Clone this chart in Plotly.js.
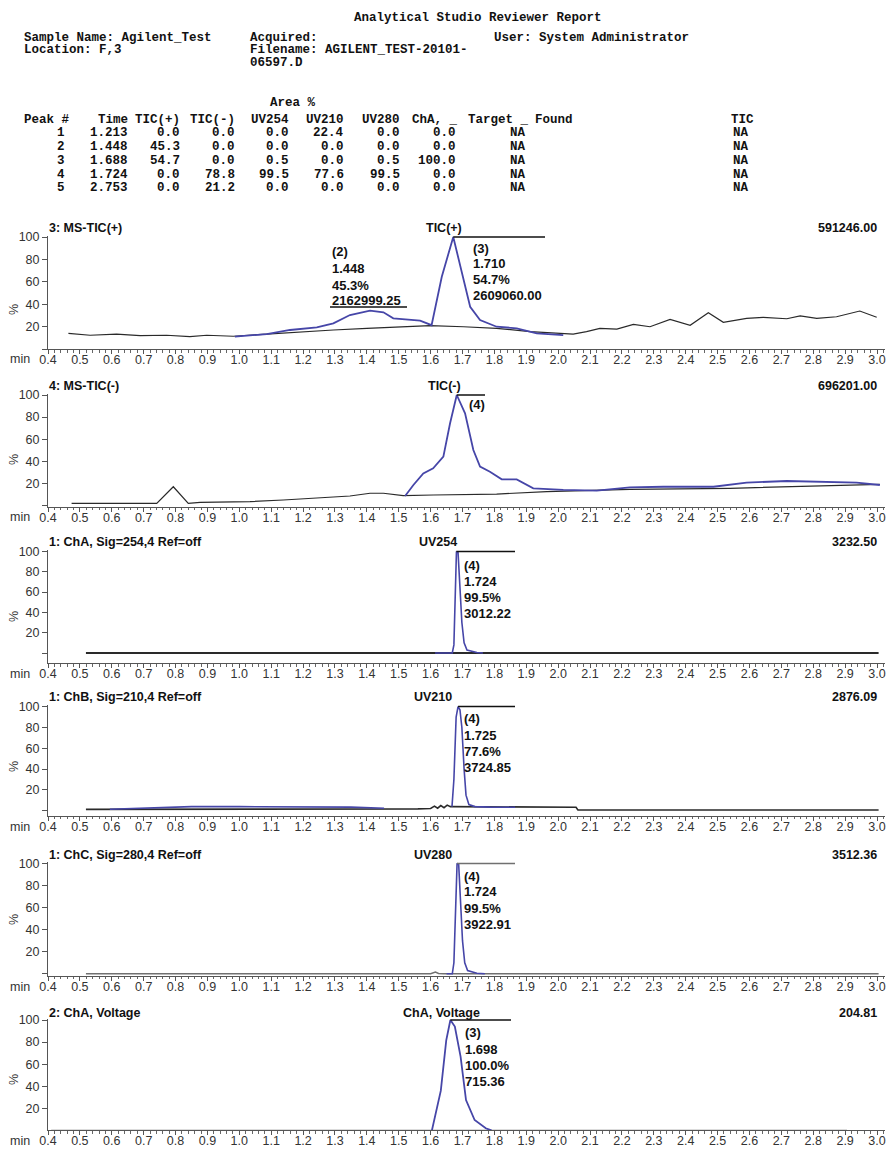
<!DOCTYPE html>
<html><head><meta charset="utf-8">
<script src="https://cdn.plot.ly/plotly-3.0.1.min.js"></script>
<style>html,body{margin:0;padding:0;background:#fff}</style>
</head><body>
<div id="chart" style="width:886px;height:1149px"></div>
<script>
// ---------------- DATA ----------------
// Report header
const reportTitle = "Analytical Studio Reviewer Report";
const sampleName = "Sample Name: Agilent_Test";
const locationTxt = "Location: F,3";
const acquiredTxt = "Acquired:";
const fileLine1 = "Filename: AGILENT_TEST-20101-";
const fileLine2 = "06597.D";
const userTxt = "User: System Administrator";

// Area % table
const tableCols = ["Time","TIC(+)","TIC(-)","UV254","UV210","UV280"];
const peakNums = [1,2,3,4,5];
const peakTimes = ["1.213","1.448","1.688","1.724","2.753"];
const areaTicPos = ["0.0","45.3","54.7","0.0","0.0"];
const areaTicNeg = ["0.0","0.0","0.0","78.8","21.2"];
const areaUV254 = ["0.0","0.0","0.5","99.5","0.0"];
const areaUV210 = ["22.4","0.0","0.0","77.6","0.0"];
const areaUV280 = ["0.0","0.0","0.5","99.5","0.0"];
const areaChA = ["0.0","0.0","100.0","0.0","0.0"];
const targetFound = ["NA","NA","NA","NA","NA"];
const ticFound = ["NA","NA","NA","NA","NA"];

// Panel 1: MS-TIC(+)
const ticPosBaseX = [0.464,0.532,0.615,0.689,0.772,0.845,0.898,0.981,1.086,1.190,1.295,1.400,1.504,1.598,1.703,1.807,1.912,2.016,2.047,2.089,2.131,2.184,2.236,2.288,2.351,2.414,2.471,2.518,2.591,2.643,2.717,2.759,2.811,2.873,2.946,2.999];
const ticPosBaseY = [14.2,12.5,13.6,12.1,12.5,11.2,12.5,11.6,13.6,15.7,17.2,18.7,20.1,21.0,20.1,18.7,15.7,13.6,13.6,15.7,18.7,18.0,22.2,20.1,26.7,21.4,32.6,24.0,27.6,28.5,27.2,29.7,27.6,29.0,34.1,28.5];
const ticPosPeakX = [0.986,1.086,1.159,1.243,1.295,1.347,1.410,1.452,1.483,1.535,1.567,1.603,1.635,1.671,1.703,1.724,1.755,1.807,1.870,1.933,2.016];
const ticPosPeakY = [11.2,13.6,17.2,19.6,23.1,30.5,34.4,32.9,27.6,26.7,25.5,21.5,64.6,100,61.7,37.9,26.1,20.1,18.7,14.2,12.7];

// Panel 2: MS-TIC(-)
const ticNegBaseX = [0.474,0.741,0.793,0.840,0.877,1.034,1.138,1.211,1.295,1.347,1.410,1.452,1.514,1.608,1.807,1.964,2.225,2.539,2.748,3.009];
const ticNegBaseY = [1.9,1.9,16.9,1.9,2.8,3.4,4.9,6.4,7.6,8.5,11.0,11.0,8.8,9.4,10.3,12.4,14.6,15.5,16.9,19.1];
const ticNegPeakX = [1.520,1.546,1.577,1.608,1.640,1.661,1.682,1.708,1.734,1.755,1.786,1.823,1.870,1.922,2.016,2.121,2.225,2.330,2.487,2.591,2.717,2.800,2.936,3.009];
const ticNegPeakY = [8.5,18.5,29.0,33.6,44.1,74.4,100,83.4,50.2,35.1,30.5,23.6,23.6,15.5,14.0,13.3,16.4,16.9,16.9,20.6,22.1,21.5,20.6,18.5];

// Panel 3: UV254
const uv254BaseX = [0.519,3.005];
const uv254BaseY = [0,0];
const uv254PeakX = [1.614,1.668,1.673,1.677,1.681,1.686,1.692,1.698,1.705,1.714,1.745,1.764];
const uv254PeakY = [0,0,8,45,100,99,70,30,10,3,0.5,0];

// Panel 4: UV210
const uv210BaseX = [0.519,0.594,1.454,1.560,1.600,1.612,1.622,1.632,1.642,1.652,1.662,1.667,1.720,1.865,2.056,2.062,3.005];
const uv210BaseY = [1.4,1.4,1.6,1.8,2.2,4.5,2.5,5.0,3.0,5.5,4.0,4.0,4.0,3.4,3.4,0.8,0.8];
const uv210DriftX = [0.594,0.700,0.850,1.000,1.200,1.350,1.454];
const uv210DriftY = [1.5,2.5,4.0,4.0,4.0,3.5,2.5];
const uv210PeakX = [1.667,1.673,1.680,1.686,1.692,1.698,1.705,1.711,1.720,1.739,1.786,1.865];
const uv210PeakY = [4,30,90,100,97,80,40,15,6,4,3.5,3.4];

// Panel 5: UV280
const uv280BaseX = [0.519,1.600,1.615,1.625,1.640,3.005];
const uv280BaseY = [0,0,1.5,0.3,0,0];
const uv280PeakX = [1.650,1.668,1.673,1.678,1.683,1.688,1.694,1.700,1.707,1.716,1.745,1.770];
const uv280PeakY = [0,0,10,55,100,99,70,30,10,3,0.5,0];

// Panel 6: ChA Voltage
const voltBaseX = [0.41,2.906];
const voltBaseY = [0,0];
const voltPeakX = [1.604,1.632,1.649,1.662,1.676,1.694,1.711,1.738,1.773,1.791];
const voltPeakY = [0,36,81.5,100,94,66.8,27.5,9.4,1.9,0];

// Panel titles
const panelLeft = ["3: MS-TIC(+)","4: MS-TIC(-)","1: ChA, Sig=254,4 Ref=off","1: ChB, Sig=210,4 Ref=off","1: ChC, Sig=280,4 Ref=off","2: ChA, Voltage"];
const panelMid = ["TIC(+)","TIC(-)","UV254","UV210","UV280","ChA, Voltage"];
const panelRight = ["591246.00","696201.00","3232.50","2876.09","3512.36","204.81"];

// Peak labels
const peakLabels = [
  {panel:0, lines:["(2)","1.448","45.3%","2162999.25"], under:true},
  {panel:0, lines:["(3)","1.710","54.7%","2609060.00"]},
  {panel:1, lines:["(4)"]},
  {panel:2, lines:["(4)","1.724","99.5%","3012.22"]},
  {panel:3, lines:["(4)","1.725","77.6%","3724.85"]},
  {panel:4, lines:["(4)","1.724","99.5%","3922.91"]},
  {panel:5, lines:["(3)","1.698","100.0%","715.36"]}
];

// ---------------- LAYOUT ----------------
const W = 886, H = 1149;
const PX = x => x / W;
const PY = y => 1 - y / H;
const BLUE = '#4646a8', BLACK = '#2a2a2a', GRAY = '#707070';
const XL = 48, XR = 885, X0 = 0.4, XS = 318.85;   // pixels
const xOfPx = p => X0 + (p - XL) / XS;

// vertical geometry of each panel (pixels): zero line, px per %, axis top, axis bottom
const geo = [
  {zero:349.3, s:1.123, top:235.5, bot:349.3, title:228, lab:359, pct:310},
  {zero:505.4, s:1.104, top:393.5, bot:506.7, title:386.5, lab:517, pct:460},
  {zero:653.0, s:1.015, top:550.0, bot:663.3, title:542, lab:674, pct:617},
  {zero:810.8, s:1.042, top:705.0, bot:815.7, title:697, lab:827, pct:767},
  {zero:973.8, s:1.104, top:862.0, bot:975.7, title:855, lab:987, pct:920},
  {zero:1130.4, s:1.104, top:1018.5, bot:1130.0, title:1013, lab:1141, pct:1080}
];

const tickFont = {family:'Liberation Sans, Arial, sans-serif', size:12.5, color:'#333'};
const layout = {
  width: W, height: H,
  margin: {l:0, r:0, t:0, b:0},
  paper_bgcolor: '#fff', plot_bgcolor: '#fff',
  showlegend: false,
  annotations: [], shapes: []
};

geo.forEach((g, i) => {
  const n = i === 0 ? '' : String(i + 1);
  layout['xaxis' + n] = {
    domain: [PX(XL), PX(XR)],
    range: [xOfPx(XL), xOfPx(XR)],
    anchor: 'y' + n,
    tickmode: 'linear', tick0: 0.4, dtick: 0.1, tickformat: '.1f',
    ticks: 'outside', ticklen: 4, tickcolor: '#555', tickwidth: 1,
    ticklabelstandoff: -5,
    minor: {dtick: 0.02, ticks: 'outside', ticklen: 2.5, tickcolor: '#666'},
    showline: true, linecolor: '#555', linewidth: 1,
    showgrid: false, zeroline: false, automargin: false,
    tickfont: tickFont
  };
  layout['yaxis' + n] = {
    domain: [PY(g.bot), PY(g.top)],
    range: [(g.zero - g.bot) / g.s, (g.zero - g.top) / g.s],
    anchor: 'x' + n,
    tickmode: 'array', tickvals: [0,20,40,60,80,100], ticktext: ['','20','40','60','80','100'],
    ticks: 'outside', ticklen: 5, tickcolor: '#555',
    showline: true, linecolor: '#555', linewidth: 1,
    showgrid: false, zeroline: false, automargin: false,
    tickfont: tickFont
  };
  const tf = {family:'Liberation Sans, Arial, sans-serif', size:12.5, color:'#111'};
  layout.annotations.push(
    {xref:'paper', yref:'paper', x:PX(47), y:PY(g.title), xanchor:'left', yanchor:'middle', showarrow:false, text:'<b>'+panelLeft[i]+'</b>', font:tf},
    {xref:'paper', yref:'paper', x:PX([444,444,438,433,433,441][i]), y:PY(g.title), xanchor:'center', yanchor:'middle', showarrow:false, text:'<b>'+panelMid[i]+'</b>', font:tf},
    {xref:'paper', yref:'paper', x:PX(879), y:PY(g.title), xanchor:'right', yanchor:'middle', showarrow:false, text:'<b>'+panelRight[i]+'</b>', font:tf},
    {xref:'paper', yref:'paper', x:PX(8), y:PY(g.lab), xanchor:'left', yanchor:'middle', showarrow:false, text:'min', font:tickFont},
    {xref:'paper', yref:'paper', x:PX(14), y:PY(g.pct), xanchor:'center', yanchor:'middle', showarrow:false, text:'%', textangle:-90, font:tickFont}
  );
});

// ---------------- TRACES ----------------
function tr(x, y, axis, color, width) {
  return {x:x, y:y, type:'scatter', mode:'lines', xaxis:'x'+axis, yaxis:'y'+axis,
          line:{color:color, width:width}, hoverinfo:'skip'};
}
const data = [
  tr(ticPosBaseX, ticPosBaseY, '', BLACK, 1.2),
  tr(ticPosPeakX, ticPosPeakY, '', BLUE, 1.8),
  tr(ticNegBaseX, ticNegBaseY, '2', BLACK, 1.2),
  tr(ticNegPeakX, ticNegPeakY, '2', BLUE, 1.8),
  tr(uv254BaseX, uv254BaseY, '3', BLACK, 1.8),
  tr(uv254PeakX, uv254PeakY, '3', BLUE, 1.6),
  tr(uv210BaseX, uv210BaseY, '4', BLACK, 1.6),
  tr(uv210DriftX, uv210DriftY, '4', BLUE, 1.6),
  tr(uv210PeakX, uv210PeakY, '4', BLUE, 1.6),
  tr(uv280BaseX, uv280BaseY, '5', GRAY, 1.5),
  tr(uv280PeakX, uv280PeakY, '5', BLUE, 1.6),
  tr(voltBaseX, voltBaseY, '6', GRAY, 1.5),
  tr(voltPeakX, voltPeakY, '6', BLUE, 1.8)
];

// ---------------- PEAK LABELS ----------------
const peakSeries = [
  [ticPosPeakX, ticPosPeakY],[ticNegPeakX, ticNegPeakY],[uv254PeakX, uv254PeakY],
  [uv210PeakX, uv210PeakY],[uv280PeakX, uv280PeakY],[voltPeakX, voltPeakY]
];
const labelGeom = [
  {left:330, ys:[251,268,285,301], underX:[330,407], underY:307},
  {left:471, ys:[248,263.5,279,295], lineEnd:545},
  {left:467, ys:[404], lineEnd:485},
  {left:462, ys:[565,581,597,613], lineEnd:515},
  {left:462, ys:[718.5,735,751.5,767.5], lineEnd:515},
  {left:462, ys:[876,891.5,908,924], lineEnd:515, gray:true},
  {left:463, ys:[1032,1049.5,1065,1081], lineEnd:511}
];
const lblFont = {family:'Liberation Sans, Arial, sans-serif', size:13, color:'#111'};
peakLabels.forEach((p, k) => {
  const lg = labelGeom[k];
  p.lines.forEach((t, j) => {
    layout.annotations.push({xref:'paper', yref:'paper', x:PX(lg.left), y:PY(lg.ys[j]),
      xanchor:'left', yanchor:'middle', showarrow:false, text:'<b>'+t+'</b>', font:lblFont});
  });
  if (p.under) {
    layout.shapes.push({type:'line', xref:'paper', yref:'paper', x0:PX(lg.underX[0]), x1:PX(lg.underX[1]),
      y0:PY(lg.underY), y1:PY(lg.underY), line:{color:'#111', width:1.5}});
  } else {
    const [sx, sy] = peakSeries[p.panel];
    const im = sy.indexOf(Math.max(...sy));
    const n = p.panel === 0 ? '' : String(p.panel + 1);
    layout.shapes.push({type:'line', xref:'x'+n, yref:'y'+n, x0:sx[im], x1:xOfPx(lg.lineEnd),
      y0:sy[im], y1:sy[im], line:{color: lg.gray ? GRAY : '#111', width:1.5}});
  }
});

// ---------------- HEADER & TABLE ----------------
const mono = {family:'Liberation Mono, Courier New, monospace', size:12.5, color:'#111'};
function txt(s, x, y, anchor) {
  layout.annotations.push({xref:'paper', yref:'paper', x:PX(x), y:PY(y), xanchor:anchor||'left',
    yanchor:'middle', showarrow:false, text:'<b>'+s+'</b>', font:mono});
}
txt(reportTitle, 478, 18, 'center');
txt(sampleName, 22, 38); txt(locationTxt, 22, 50);
txt(acquiredTxt, 248, 38); txt(fileLine1, 248, 50); txt(fileLine2, 248, 63);
txt(userTxt, 492, 38);
txt("Area %", 268, 103);
const hdrY = 120, rowY = [133.3,146.7,161,175,188.3];
txt("Peak #", 22, hdrY);
const colRight = [130,182,237,291,346,402];
tableCols.forEach((c, i) => txt(c, colRight[i], hdrY, 'right'));
txt("ChA, _", 410, hdrY); txt("Target _", 466, hdrY); txt("Found", 533, hdrY); txt("TIC", 729, hdrY);
const colVals = [peakTimes, areaTicPos, areaTicNeg, areaUV254, areaUV210, areaUV280];
peakNums.forEach((pn, r) => {
  txt(String(pn), 67, rowY[r], 'right');
  colVals.forEach((arr, c) => txt(arr[r], colRight[c], rowY[r], 'right'));
  txt(areaChA[r], 458, rowY[r], 'right');
  txt(targetFound[r], 518, rowY[r], 'center');
  txt(ticFound[r], 741, rowY[r], 'center');
});

Plotly.newPlot('chart', data, layout, {staticPlot:true, displayModeBar:false});
</script>
</body></html>
